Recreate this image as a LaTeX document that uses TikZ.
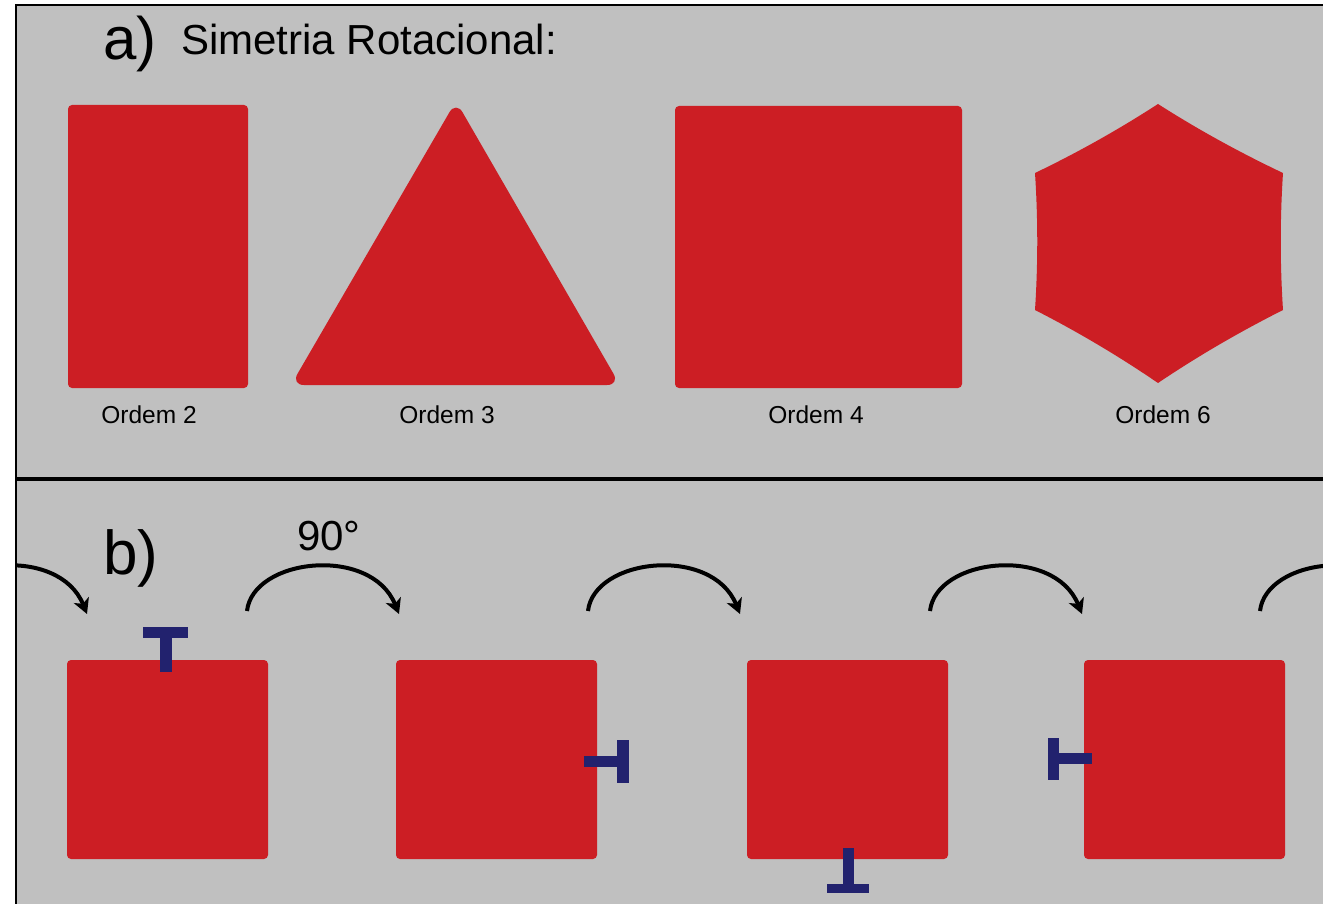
\documentclass[tikz,border=0pt]{standalone}
\usepackage{fontspec}
\setmainfont{Liberation Sans}
\usetikzlibrary{arrows.meta}
\definecolor{panelgray}{RGB}{192,192,192}
\definecolor{shapered}{RGB}{204,30,36}
\definecolor{marknavy}{RGB}{34,34,110}
\newcommand{\fsz}[1]{\fontsize{#1}{#1}\selectfont}

\begin{document}
\begin{tikzpicture}[x=1pt, y=-1pt, every node/.style={inner sep=0pt, text=black}, >={Stealth[length=15pt, width=16pt, inset=4pt]},
	redshape/.style={fill=shapered, rounded corners=4pt},
	tmark/.style={fill=marknavy},
	turn/.style={line width=4pt, ->}]
	\useasboundingbox (0,0) rectangle (1323,904);
	\fill[white] (0,0) rectangle (1323,904);
	\fill[panelgray] (16,5) rectangle (1323,904);
	% a) Simetria Rotacional
	\node[anchor=base west, font=\fsz{60}] (lbla) at (103,60) {a)};
	\node[anchor=base west, font=\fsz{42}] (title) at (181,55) {Simetria Rotacional:};
	\fill[redshape] (68,105) rectangle (248,388);
	\fill[redshape, rounded corners=13pt] (455,385) -- (291,385) -- (456,101) -- (620,385) -- cycle;
	\fill[redshape] (675,106) rectangle (962,388);
	\fill[shapered] (1158,104) .. controls (1118.5,129.6) and (1077.5,152.6) .. (1035,173)
		.. controls (1038,219) and (1038,264) .. (1035,310)
		.. controls (1077.5,331.7) and (1118.5,356) .. (1158,383)
		.. controls (1198,356) and (1240,331.7) .. (1283,310)
		.. controls (1280,264) and (1280,219) .. (1283,173)
		.. controls (1240,152.6) and (1198,129.6) .. (1158,104) -- cycle;
	\node[anchor=base, font=\fsz{24.5}] (o2) at (149,423) {Ordem 2};
	\node[anchor=base, font=\fsz{24.5}] (o3) at (447,423) {Ordem 3};
	\node[anchor=base, font=\fsz{24.5}] (o4) at (816,423) {Ordem 4};
	\node[anchor=base, font=\fsz{24.5}] (o6) at (1163,423) {Ordem 6};
	\draw[line width=4pt] (16,479) -- (1323,479);
	% b) rotation by 90 degrees
	\node[anchor=base west, font=\fsz{62}] (lblb) at (103,574) {b)};
	\node[anchor=base west, font=\fsz{42}] (deg) at (297,550) {90°};
	\foreach \sx in {67,396,747,1084}
		\fill[redshape] (\sx,660) rectangle (\sx+201,859);
	\fill[tmark] (143,627) rectangle (188,638);
	\fill[tmark] (160,637) rectangle (172,672);
	\fill[tmark] (584,756) rectangle (618,767);
	\fill[tmark] (617,740) rectangle (629,783);
	\fill[tmark] (843,848) rectangle (854,885);
	\fill[tmark] (827,884) rectangle (869,893);
	\fill[tmark] (1048,738) rectangle (1059,780);
	\fill[tmark] (1058,753) rectangle (1092,764);
	\begin{scope}
		\clip (17,481) rectangle (1323,904);
		\foreach \sx in {-65,247,588,930,1260}
			\draw[turn] (\sx,611) .. controls (\sx+6,558) and (\sx+124,545) .. (\sx+152,614);
	\end{scope}
	\draw[line width=2.5pt] (16,904) -- (16,5) -- (1323,5);
\end{tikzpicture}
\end{document}
